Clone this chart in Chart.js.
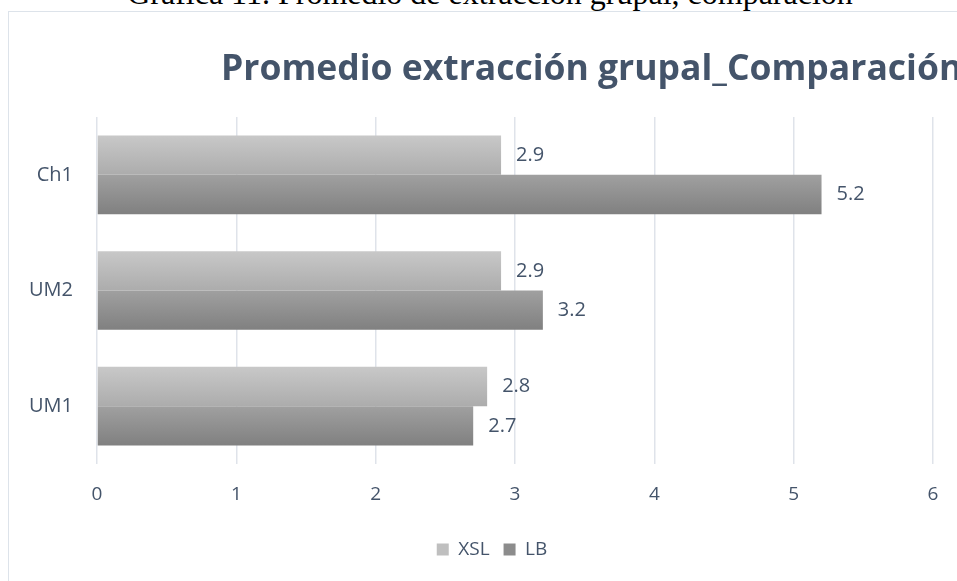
<!DOCTYPE html>
<html>
<head>
<meta charset="utf-8">
<script src="https://cdn.jsdelivr.net/npm/chart.js@4.4.1/dist/chart.umd.min.js"></script>
<style>
    html, body { margin: 0; padding: 0; background: #fff; overflow: hidden; width: 957px; height: 581px; }
    #legenda-topo { position: absolute; left: 0; top: -23px; width: 980px; text-align: center;
        font: 32px/32px "Liberation Serif", serif; color: #000; white-space: nowrap; }
    #caixa { position: absolute; left: 8px; top: 11px; width: 966px; height: 580px; border: 1px solid #dde3ea; }
</style>
</head>
<body>
<div id="legenda-topo">Gráfica 11. Promedio de extracción grupal, comparación</div>
<div id="caixa"><canvas id="grafico-extracao" width="966" height="580"></canvas></div>
<script>
// dados do grafico
const categorias = ['Ch1', 'UM2', 'UM1'];
const valoresXSL = [2.9, 2.9, 2.8];
const valoresLB = [5.2, 3.2, 2.7];
const ticksX = [0, 1, 2, 3, 4, 5, 6];
const tituloGrafico = 'Promedio extracción grupal_Comparación';

const corTexto = '#44546a';
const coresLegenda = ['#bfbfbf', '#8c8c8c'];

// degrade vertical em cada barra (como no excel)
function preenchimento(corTopo, corBase, lado) {
    return function (context) {
        const chart = context.chart;
        const y = chart.scales.y;
        if (!chart.chartArea || !y || context.dataIndex === undefined) return corBase;
        const centro = y.getPixelForValue(context.dataIndex);
        const meia = (y.height / categorias.length) * 0.68 / 2;
        const topo = lado === 0 ? centro - meia : centro;
        const grad = chart.ctx.createLinearGradient(0, topo, 0, topo + meia);
        grad.addColorStop(0, corTopo);
        grad.addColorStop(1, corBase);
        return grad;
    };
}

// valores ao lado das barras
const rotulosValores = {
    id: 'rotulosValores',
    afterDatasetsDraw(chart) {
        const ctx = chart.ctx;
        ctx.save();
        ctx.font = '20px "Open Sans"';
        ctx.fillStyle = corTexto;
        ctx.textBaseline = 'middle';
        chart.data.datasets.forEach(function (ds, i) {
            chart.getDatasetMeta(i).data.forEach(function (barra, j) {
                ctx.fillText(ds.data[j].toFixed(1), barra.x + 15, barra.y);
            });
        });
        ctx.restore();
    }
};

// titulo deslocado para a direita, como na imagem
const tituloDeslocado = {
    id: 'tituloDeslocado',
    afterDraw(chart) {
        const ctx = chart.ctx;
        ctx.save();
        ctx.font = 'bold 35.5px "Open Sans"';
        ctx.fillStyle = corTexto;
        ctx.textBaseline = 'alphabetic';
        ctx.fillText(tituloGrafico, 212, 68);
        ctx.restore();
    }
};

// a legenda fica um pouco a direita do centro
const moverLegenda = {
    id: 'moverLegenda',
    afterLayout(chart) {
        if (chart.legend) {
            chart.legend.left += 21;
            chart.legend.right += 21;
        }
    }
};

const ctxGrafico = document.getElementById('grafico-extracao');
new Chart(ctxGrafico, {
    type: 'bar',
    data: {
        labels: categorias,
        datasets: [{
            label: 'XSL',
            data: valoresXSL,
            backgroundColor: preenchimento('#c8c8c8', '#acacac', 0),
            barPercentage: 1,
            categoryPercentage: 0.68
        }, {
            label: 'LB',
            data: valoresLB,
            backgroundColor: preenchimento('#a0a0a0', '#808080', 1),
            barPercentage: 1,
            categoryPercentage: 0.68
        }]
    },
    options: {
        indexAxis: 'y',
        responsive: false,
        animation: false,
        layout: {
            padding: { top: 105, left: 0, right: 42, bottom: 23 }
        },
        plugins: {
            legend: {
                position: 'bottom',
                labels: {
                    boxWidth: 12,
                    boxHeight: 12,
                    padding: 14,
                    color: corTexto,
                    font: { family: 'Open Sans', size: 19 },
                    generateLabels(chart) {
                        const itens = Chart.defaults.plugins.legend.labels.generateLabels(chart);
                        itens.forEach(function (item, i) {
                            item.fillStyle = coresLegenda[i];
                            item.strokeStyle = coresLegenda[i];
                            item.lineWidth = 0;
                        });
                        return itens;
                    }
                }
            },
            tooltip: { enabled: false }
        },
        scales: {
            x: {
                min: ticksX[0],
                max: ticksX[ticksX.length - 1],
                afterBuildTicks(scale) {
                    scale.ticks = ticksX.map(v => ({ value: v }));
                },
                afterFit(scale) { scale.height = 62; },
                ticks: { color: corTexto, padding: 19, font: { family: 'Open Sans', size: 19 } },
                grid: { color: '#dfe3ea', lineWidth: 1.5, drawTicks: false },
                border: { display: false }
            },
            y: {
                afterFit(scale) { scale.width = 88; },
                ticks: { color: corTexto, padding: 24, font: { family: 'Open Sans', size: 20 } },
                grid: { display: false, drawTicks: false },
                border: { display: false }
            }
        }
    },
    plugins: [rotulosValores, tituloDeslocado, moverLegenda]
});
</script>
</body>
</html>
